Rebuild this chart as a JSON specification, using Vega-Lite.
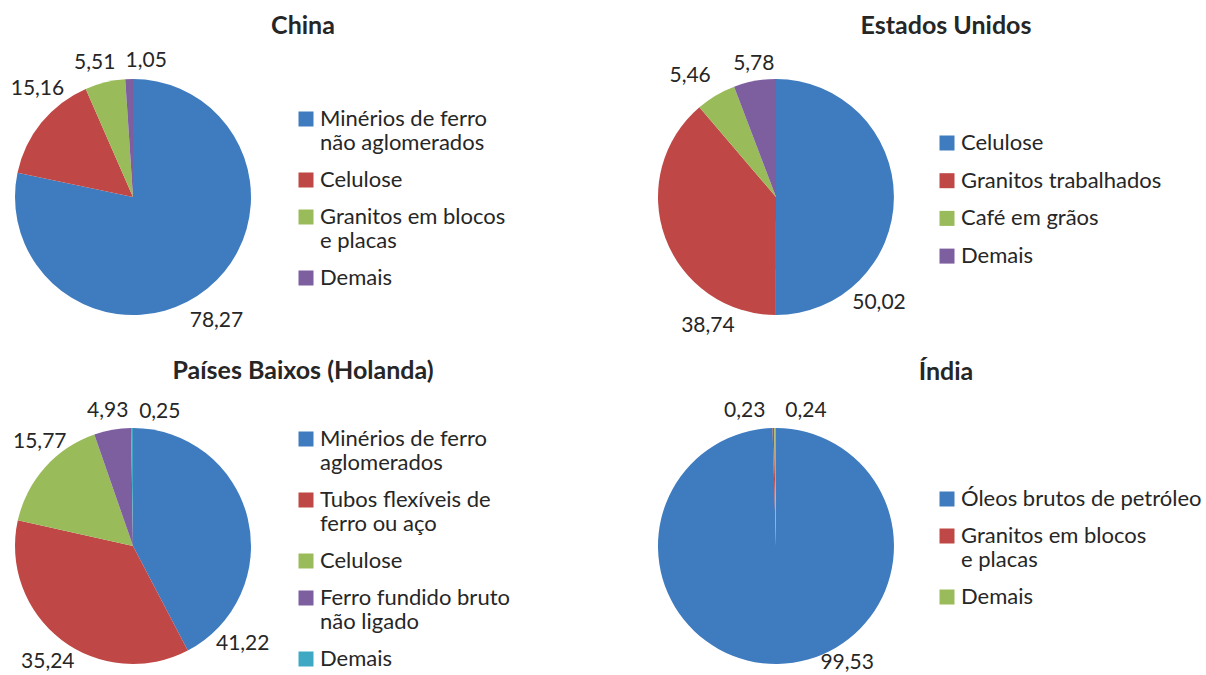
{
  "$schema": "https://vega.github.io/schema/vega-lite/v6.json",
  "padding": {"left": 10, "top": 14, "right": 0, "bottom": 0},
  "background": "white",
  "config": {
    "locale": {"number": {"decimal": ",", "thousands": ".", "grouping": [3], "currency": ["R$", ""]}},
    "view": {"stroke": null},
    "font": "Lato",
    "title": {"fontSize": 25, "fontWeight": "bold", "color": "#262626", "font": "Lato", "anchor": "middle", "frame": "group"},
    "legend": {"labelFont": "Lato", "labelFontSize": 22, "labelColor": "#262626", "symbolType": "square", "symbolSize": 225, "symbolStrokeWidth": 0, "symbolOpacity": 1, "rowPadding": 15, "labelOffset": 3, "labelLimit": 400, "padding": 0},
    "text": {"font": "Lato", "fontSize": 21, "fill": "#262626"}
  },
  "data": {"values": [
    {"pais": "China", "item": "Minérios de ferro não aglomerados", "valor": 78.27, "ordem": 1},
    {"pais": "China", "item": "Celulose", "valor": 15.16, "ordem": 2},
    {"pais": "China", "item": "Granitos em blocos e placas", "valor": 5.51, "ordem": 3},
    {"pais": "China", "item": "Demais", "valor": 1.05, "ordem": 4},
    {"pais": "EUA", "item": "Celulose", "valor": 50.02, "ordem": 1},
    {"pais": "EUA", "item": "Granitos trabalhados", "valor": 38.74, "ordem": 2},
    {"pais": "EUA", "item": "Café em grãos", "valor": 5.46, "ordem": 3},
    {"pais": "EUA", "item": "Demais", "valor": 5.78, "ordem": 4},
    {"pais": "PB", "item": "Minérios de ferro aglomerados", "valor": 41.22, "ordem": 1},
    {"pais": "PB", "item": "Tubos flexíveis de ferro ou aço", "valor": 35.24, "ordem": 2},
    {"pais": "PB", "item": "Celulose", "valor": 15.77, "ordem": 3},
    {"pais": "PB", "item": "Ferro fundido bruto não ligado", "valor": 4.93, "ordem": 4},
    {"pais": "PB", "item": "Demais", "valor": 0.25, "ordem": 5},
    {"pais": "India", "item": "Óleos brutos de petróleo", "valor": 99.53, "ordem": 1},
    {"pais": "India", "item": "Granitos em blocos e placas", "valor": 0.23, "ordem": 2},
    {"pais": "India", "item": "Demais", "valor": 0.24, "ordem": 3}
  ]},
  "columns": 2,
  "spacing": {"row": 113, "column": 407},
  "bounds": "flush",
  "resolve": {"scale": {"color": "independent", "theta": "independent"}, "legend": {"color": "independent"}},
  "concat": [
    {
      "title": {"text": "China", "dx": 170, "offset": 40, "dy": 55},
      "width": 236, "height": 236,
      "transform": [{"filter": "datum.pais == 'China'"}],
      "encoding": {
        "theta": {"field": "valor", "type": "quantitative", "stack": true},
        "order": {"field": "ordem", "type": "quantitative"}
      },
      "layer": [
        {"mark": {"type": "arc", "outerRadius": 118},
         "encoding": {"color": {"field": "item", "type": "nominal",
           "scale": {"domain": ["Minérios de ferro não aglomerados", "Celulose", "Granitos em blocos e placas", "Demais"], "range": ["#3E7BBF", "#BF4745", "#9ABB59", "#7D5FA0"]},
           "legend": {"title": null, "orient": "none", "legendX": 280, "legendY": 29,
             "labelExpr": "datum.label == 'Minérios de ferro não aglomerados' ? ['Minérios de ferro', 'não aglomerados'] : datum.label == 'Granitos em blocos e placas' ? ['Granitos em blocos', 'e placas'] : datum.label"}}}},
        {"mark": {"type": "text", "radius": 145, "dx": -8, "dy": 11},
         "encoding": {"detail": {"field": "item"}, "text": {"condition": {"test": "datum.item == 'Minérios de ferro não aglomerados'", "field": "valor", "type": "quantitative", "format": ".2f"}, "value": ""}}},
        {"mark": {"type": "text", "radius": 145, "dx": 17, "dy": -17},
         "encoding": {"detail": {"field": "item"}, "text": {"condition": {"test": "datum.item == 'Celulose'", "field": "valor", "type": "quantitative", "format": ".2f"}, "value": ""}}},
        {"mark": {"type": "text", "radius": 145, "dx": -4, "dy": 7},
         "encoding": {"detail": {"field": "item"}, "text": {"condition": {"test": "datum.item == 'Granitos em blocos e placas'", "field": "valor", "type": "quantitative", "format": ".2f"}, "value": ""}}},
        {"mark": {"type": "text", "radius": 145, "dx": 18, "dy": 9},
         "encoding": {"detail": {"field": "item"}, "text": {"condition": {"test": "datum.item == 'Demais'", "field": "valor", "type": "quantitative", "format": ".2f"}, "value": ""}}}
      ]
    },
    {
      "title": {"text": "Estados Unidos", "dx": 170, "offset": 40, "dy": 32},
      "width": 236, "height": 236,
      "transform": [{"filter": "datum.pais == 'EUA'"}],
      "encoding": {
        "theta": {"field": "valor", "type": "quantitative", "stack": true},
        "order": {"field": "ordem", "type": "quantitative"}
      },
      "layer": [
        {"mark": {"type": "arc", "outerRadius": 118},
         "encoding": {"color": {"field": "item", "type": "nominal",
           "scale": {"domain": ["Celulose", "Granitos trabalhados", "Café em grãos", "Demais"], "range": ["#3E7BBF", "#BF4745", "#9ABB59", "#7D5FA0"]},
           "legend": {"title": null, "orient": "none", "legendX": 278, "legendY": 53, "rowPadding": 15.7}}}},
        {"mark": {"type": "text", "radius": 145, "dx": -42, "dy": 106},
         "encoding": {"detail": {"field": "item"}, "text": {"condition": {"test": "datum.item == 'Celulose'", "field": "valor", "type": "quantitative", "format": ".2f"}, "value": ""}}},
        {"mark": {"type": "text", "radius": 145, "dx": 68, "dy": 79},
         "encoding": {"detail": {"field": "item"}, "text": {"condition": {"test": "datum.item == 'Granitos trabalhados'", "field": "valor", "type": "quantitative", "format": ".2f"}, "value": ""}}},
        {"mark": {"type": "text", "radius": 145, "dx": -12, "dy": 4},
         "encoding": {"detail": {"field": "item"}, "text": {"condition": {"test": "datum.item == 'Café em grãos'", "field": "valor", "type": "quantitative", "format": ".2f"}, "value": ""}}},
        {"mark": {"type": "text", "radius": 145, "dx": 4, "dy": 10},
         "encoding": {"detail": {"field": "item"}, "text": {"condition": {"test": "datum.item == 'Demais'", "field": "valor", "type": "quantitative", "format": ".2f"}, "value": ""}}}
      ]
    },
    {
      "title": {"text": "Países Baixos (Holanda)", "dx": 170, "offset": 40, "dy": 42},
      "width": 236, "height": 236,
      "transform": [{"filter": "datum.pais == 'PB'"}],
      "encoding": {
        "theta": {"field": "valor", "type": "quantitative", "stack": true},
        "order": {"field": "ordem", "type": "quantitative"}
      },
      "layer": [
        {"mark": {"type": "arc", "outerRadius": 118},
         "encoding": {"color": {"field": "item", "type": "nominal",
           "scale": {"domain": ["Minérios de ferro aglomerados", "Tubos flexíveis de ferro ou aço", "Celulose", "Ferro fundido bruto não ligado", "Demais"], "range": ["#3E7BBF", "#BF4745", "#9ABB59", "#7D5FA0", "#3FA9C4"]},
           "legend": {"title": null, "orient": "none", "legendX": 280, "legendY": 0,
             "labelExpr": "datum.label == 'Minérios de ferro aglomerados' ? ['Minérios de ferro', 'aglomerados'] : datum.label == 'Tubos flexíveis de ferro ou aço' ? ['Tubos flexíveis de', 'ferro ou aço'] : datum.label == 'Ferro fundido bruto não ligado' ? ['Ferro fundido bruto', 'não ligado'] : datum.label"}}}},
        {"mark": {"type": "text", "radius": 113, "dx": 0, "dy": 125},
         "encoding": {"detail": {"field": "item"}, "text": {"condition": {"test": "datum.item == 'Minérios de ferro aglomerados'", "field": "valor", "type": "quantitative", "format": ".2f"}, "value": ""}}},
        {"mark": {"type": "text", "radius": 145, "dx": 3, "dy": 1},
         "encoding": {"detail": {"field": "item"}, "text": {"condition": {"test": "datum.item == 'Tubos flexíveis de ferro ou aço'", "field": "valor", "type": "quantitative", "format": ".2f"}, "value": ""}}},
        {"mark": {"type": "text", "radius": 145, "dx": 15, "dy": -8},
         "encoding": {"detail": {"field": "item"}, "text": {"condition": {"test": "datum.item == 'Celulose'", "field": "valor", "type": "quantitative", "format": ".2f"}, "value": ""}}},
        {"mark": {"type": "text", "radius": 145, "dx": 0, "dy": 8},
         "encoding": {"detail": {"field": "item"}, "text": {"condition": {"test": "datum.item == 'Ferro fundido bruto não ligado'", "field": "valor", "type": "quantitative", "format": ".2f"}, "value": ""}}},
        {"mark": {"type": "text", "radius": 145, "dx": 28, "dy": 11},
         "encoding": {"detail": {"field": "item"}, "text": {"condition": {"test": "datum.item == 'Demais'", "field": "valor", "type": "quantitative", "format": ".2f"}, "value": ""}}}
      ]
    },
    {
      "title": {"text": "Índia", "dx": 170, "offset": 40, "dy": 63},
      "width": 236, "height": 236,
      "transform": [{"filter": "datum.pais == 'India'"}],
      "encoding": {
        "theta": {"field": "valor", "type": "quantitative", "stack": true},
        "order": {"field": "ordem", "type": "quantitative"}
      },
      "layer": [
        {"mark": {"type": "arc", "outerRadius": 118},
         "encoding": {"color": {"field": "item", "type": "nominal",
           "scale": {"domain": ["Óleos brutos de petróleo", "Granitos em blocos e placas", "Demais"], "range": ["#3E7BBF", "#BF4745", "#9ABB59"]},
           "legend": {"title": null, "orient": "none", "legendX": 278, "legendY": 60,
             "labelExpr": "datum.label == 'Granitos em blocos e placas' ? ['Granitos em blocos', 'e placas'] : datum.label"}}}},
        {"mark": {"type": "text", "radius": 145, "dx": 69, "dy": -28},
         "encoding": {"detail": {"field": "item"}, "text": {"condition": {"test": "datum.item == 'Óleos brutos de petróleo'", "field": "valor", "type": "quantitative", "format": ".2f"}, "value": ""}}},
        {"mark": {"type": "text", "radius": 145, "dx": -28, "dy": 10},
         "encoding": {"detail": {"field": "item"}, "text": {"condition": {"test": "datum.item == 'Granitos em blocos e placas'", "field": "valor", "type": "quantitative", "format": ".2f"}, "value": ""}}},
        {"mark": {"type": "text", "radius": 145, "dx": 31, "dy": 10},
         "encoding": {"detail": {"field": "item"}, "text": {"condition": {"test": "datum.item == 'Demais'", "field": "valor", "type": "quantitative", "format": ".2f"}, "value": ""}}}
      ]
    }
  ]
}
